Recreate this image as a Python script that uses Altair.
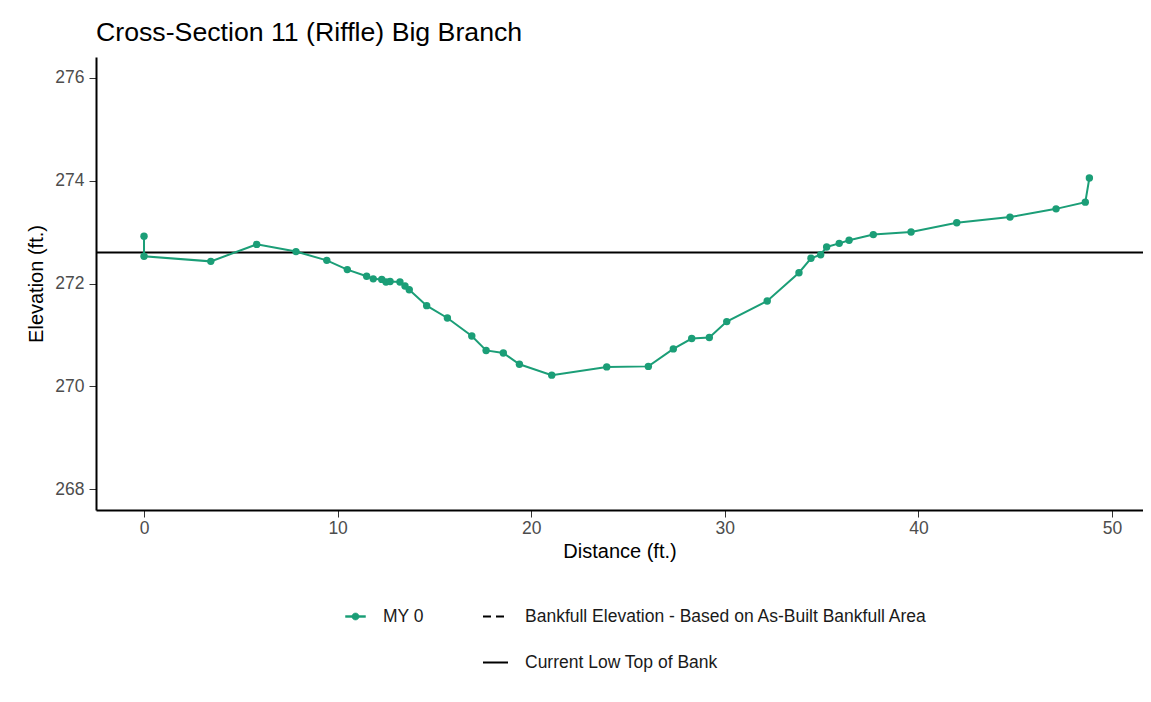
import altair as alt
import pandas as pd

# ---- data ----
distance = [0.0, 0.0, 3.45, 5.82, 7.85, 9.44, 10.50, 11.50, 11.84, 12.28, 12.50,
            12.71, 13.22, 13.48, 13.70, 14.60, 15.67, 16.93, 17.67, 18.56, 19.39,
            21.06, 23.90, 26.05, 27.34, 28.29, 29.20, 30.10, 32.19, 33.83, 34.45,
            34.95, 35.26, 35.91, 36.42, 37.67, 39.62, 41.98, 44.73, 47.11, 48.62,
            48.83]
elevation = [272.92, 272.53, 272.43, 272.76, 272.62, 272.45, 272.27, 272.14, 272.09,
             272.08, 272.03, 272.04, 272.03, 271.95, 271.88, 271.57, 271.33, 270.98,
             270.70, 270.65, 270.43, 270.22, 270.38, 270.39, 270.73, 270.93, 270.95,
             271.26, 271.66, 272.21, 272.49, 272.56, 272.71, 272.78, 272.84, 272.95,
             273.00, 273.18, 273.29, 273.45, 273.58, 274.05]
series_name = "MY 0"
bankfull_label = "Bankfull Elevation - Based on As-Built Bankfull Area"
bank_label = "Current Low Top of Bank"
low_top_of_bank = [272.6]
x_ticks = [0, 10, 20, 30, 40, 50]
y_ticks = [268, 270, 272, 274, 276]

df = pd.DataFrame({
    "Distance": distance,
    "Elevation": elevation,
    "Series": [series_name] * len(distance),
    "idx": list(range(len(distance))),
})
bank_df = pd.DataFrame({"Elevation": low_top_of_bank, "Type": [bank_label]})

FONT = "Liberation Sans"
GREEN = "#1b9e77"

x_scale = alt.Scale(domain=[-2.48, 51.6], nice=False, zero=False)
y_scale = alt.Scale(domain=[267.6, 276.4], nice=False, zero=False)

common_axis = dict(grid=False, domainColor="black", domainWidth=2,
                   tickColor="#333333", tickSize=7, tickWidth=1,
                   labelFontSize=17.5, labelColor="#4d4d4d", labelFont=FONT,
                   titleFont=FONT, titleFontSize=20, titleFontWeight="normal",
                   titleColor="black")
x_axis = alt.Axis(title="Distance (ft.)", values=x_ticks, labelPadding=2,
                  titlePadding=5, **common_axis)
y_axis = alt.Axis(title="Elevation (ft.)", values=y_ticks, labelPadding=5,
                  titlePadding=8, **common_axis)

sym_path = ("M-1,-0.09L1,-0.09L1,0.09L-1,0.09Z "
            "M0.36,0A0.36,0.36 0 1,1 -0.36,0A0.36,0.36 0 1,1 0.36,0Z")

color_legend = alt.Legend(title=None, orient="none", legendX=249, legendY=549,
                          symbolType=sym_path, symbolSize=400,
                          symbolFillColor=GREEN, symbolStrokeColor=GREEN,
                          symbolStrokeWidth=0.5, labelFont=FONT,
                          labelFontSize=17.5, labelColor="#1a1a1a",
                          labelOffset=17, labelLimit=0)
color_enc = alt.Color("Series:N",
                      scale=alt.Scale(domain=[series_name], range=[GREEN]),
                      legend=color_legend)

base = alt.Chart(df).encode(
    x=alt.X("Distance:Q", scale=x_scale, axis=x_axis),
    y=alt.Y("Elevation:Q", scale=y_scale, axis=y_axis),
    color=color_enc,
)
line = base.mark_line(strokeWidth=2).encode(order="idx:Q")
points = base.mark_circle(size=55, opacity=1)

dash_legend = alt.Legend(title=None, orient="none", legendX=386, legendY=546,
                         direction="vertical", symbolType="stroke",
                         symbolSize=625, symbolStrokeColor="black",
                         symbolStrokeWidth=2, labelFont=FONT,
                         labelFontSize=17.5, labelColor="#1a1a1a",
                         labelOffset=16, rowPadding=24, labelLimit=0)
rule = alt.Chart(bank_df).mark_rule(color="black", strokeWidth=2).encode(
    y=alt.Y("Elevation:Q", scale=y_scale),
    strokeDash=alt.StrokeDash(
        "Type:N",
        scale=alt.Scale(domain=[bankfull_label, bank_label],
                        range=[[8, 5], [1, 0]]),
        legend=dash_legend),
)

chart = alt.layer(rule, line, points).properties(
    width=1047, height=453,
    title=alt.TitleParams("Cross-Section 11 (Riffle) Big Branch", anchor="start",
                          frame="group", fontSize=26.7, font=FONT,
                          fontWeight="normal", color="black", offset=14,
                          baseline="alphabetic", dy=25),
    autosize=alt.AutoSizeParams(type="none"),
    padding={"left": 88, "top": 49, "right": 0, "bottom": 180},
).configure(background="white").configure_view(stroke=None)

chart.save("out.html", embed_options={"renderer": "svg", "actions": False})
